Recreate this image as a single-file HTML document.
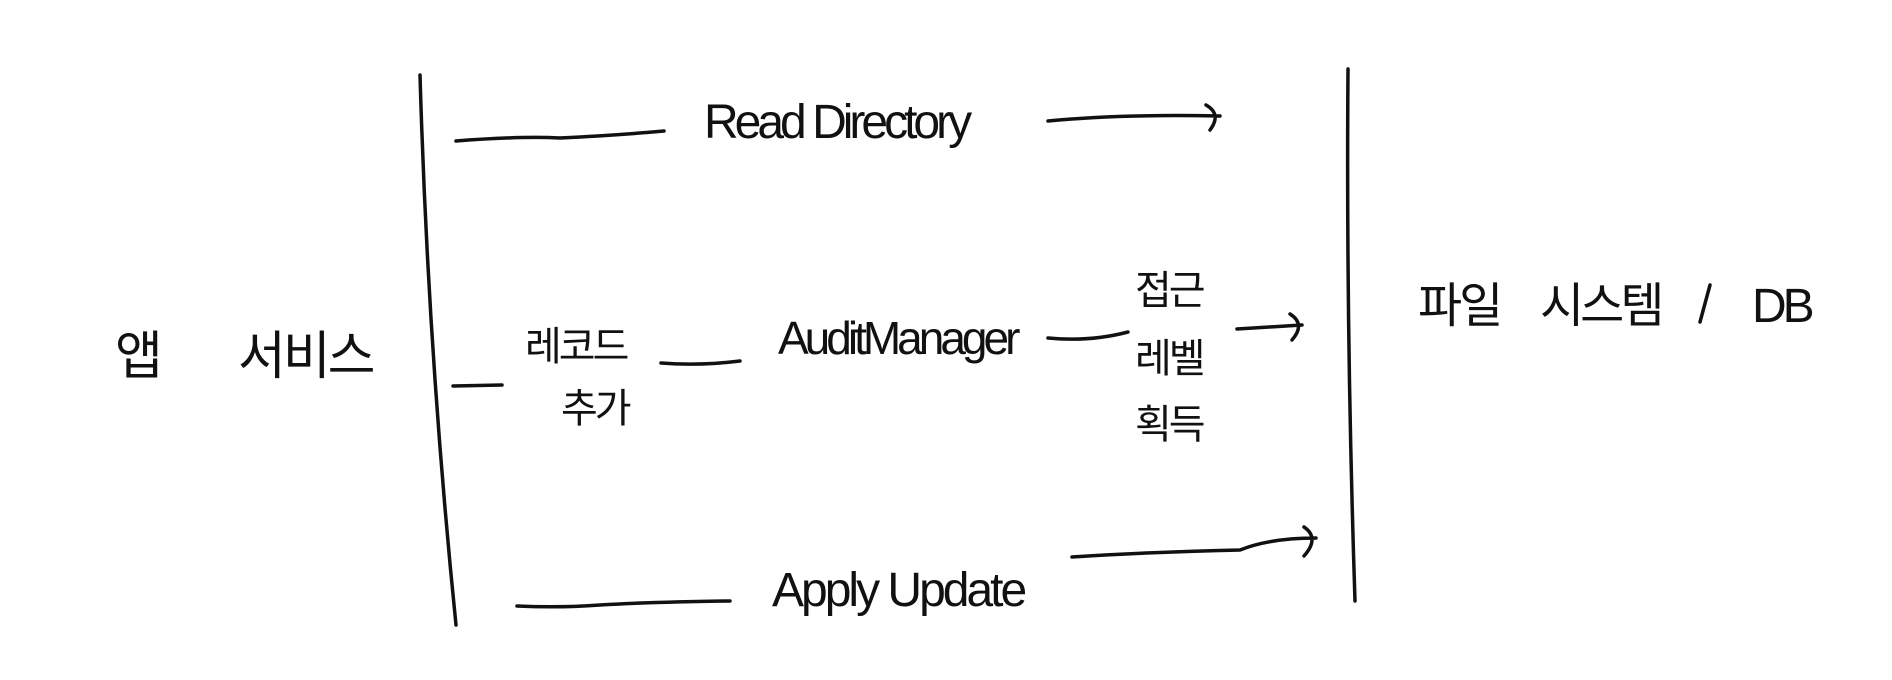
<!DOCTYPE html>
<html><head><meta charset="utf-8"><style>
html,body{margin:0;padding:0;background:#fff;}
svg{display:block}
text{font-family:"Liberation Sans","Noto Sans CJK KR",sans-serif;fill:#111;}
</style></head><body>
<svg width="1892" height="680" viewBox="0 0 1892 680" xmlns="http://www.w3.org/2000/svg">
<g fill="none" stroke="#111" stroke-width="3.5" stroke-linecap="round">
<path d="M420 75 Q428 350 456 625"/>
<path d="M1348 69 Q1346 330 1355 601"/>
<path d="M456 141 Q520 136 560 138 Q620 135 664 131"/>
<path d="M1048 121 Q1120 114 1220 116 M1206 105 Q1222 114 1210 130"/>
<path d="M453 386 L502 385"/>
<path d="M661 363 Q700 366 740 361"/>
<path d="M1048 338 Q1090 342 1128 332"/>
<path d="M1237 329 L1302 325 M1290 314 Q1306 324 1292 340"/>
<path d="M517 606 Q560 608 600 605 Q650 602 730 601"/>
<path d="M1072 557 Q1150 552 1240 550 Q1270 538 1316 538 M1304 527 Q1320 538 1304 556"/>
<path d="M1710 285 L1700 322"/>
</g>
<text x="115" y="374" font-size="52">앱</text>
<text x="238" y="374" font-size="52" letter-spacing="-3">서비스</text>
<text x="704" y="138" font-size="48" letter-spacing="-4">Read Directory</text>
<text x="525" y="360" font-size="40" letter-spacing="-3">레코드</text>
<text x="561" y="422" font-size="40" letter-spacing="-3">추가</text>
<text x="778" y="354" font-size="46" letter-spacing="-4">AuditManager</text>
<text x="1135" y="304" font-size="40" letter-spacing="-3">접근</text>
<text x="1135" y="372" font-size="40" letter-spacing="-3">레벨</text>
<text x="1135" y="438" font-size="40" letter-spacing="-3">획득</text>
<text x="772" y="606" font-size="48" letter-spacing="-3">Apply Update</text>
<text x="1418" y="322" font-size="48" letter-spacing="-3">파일</text>
<text x="1540" y="322" font-size="48" letter-spacing="-4">시스템</text>
<text x="1752" y="322" font-size="48" letter-spacing="-4">DB</text>
</svg>
</body></html>
